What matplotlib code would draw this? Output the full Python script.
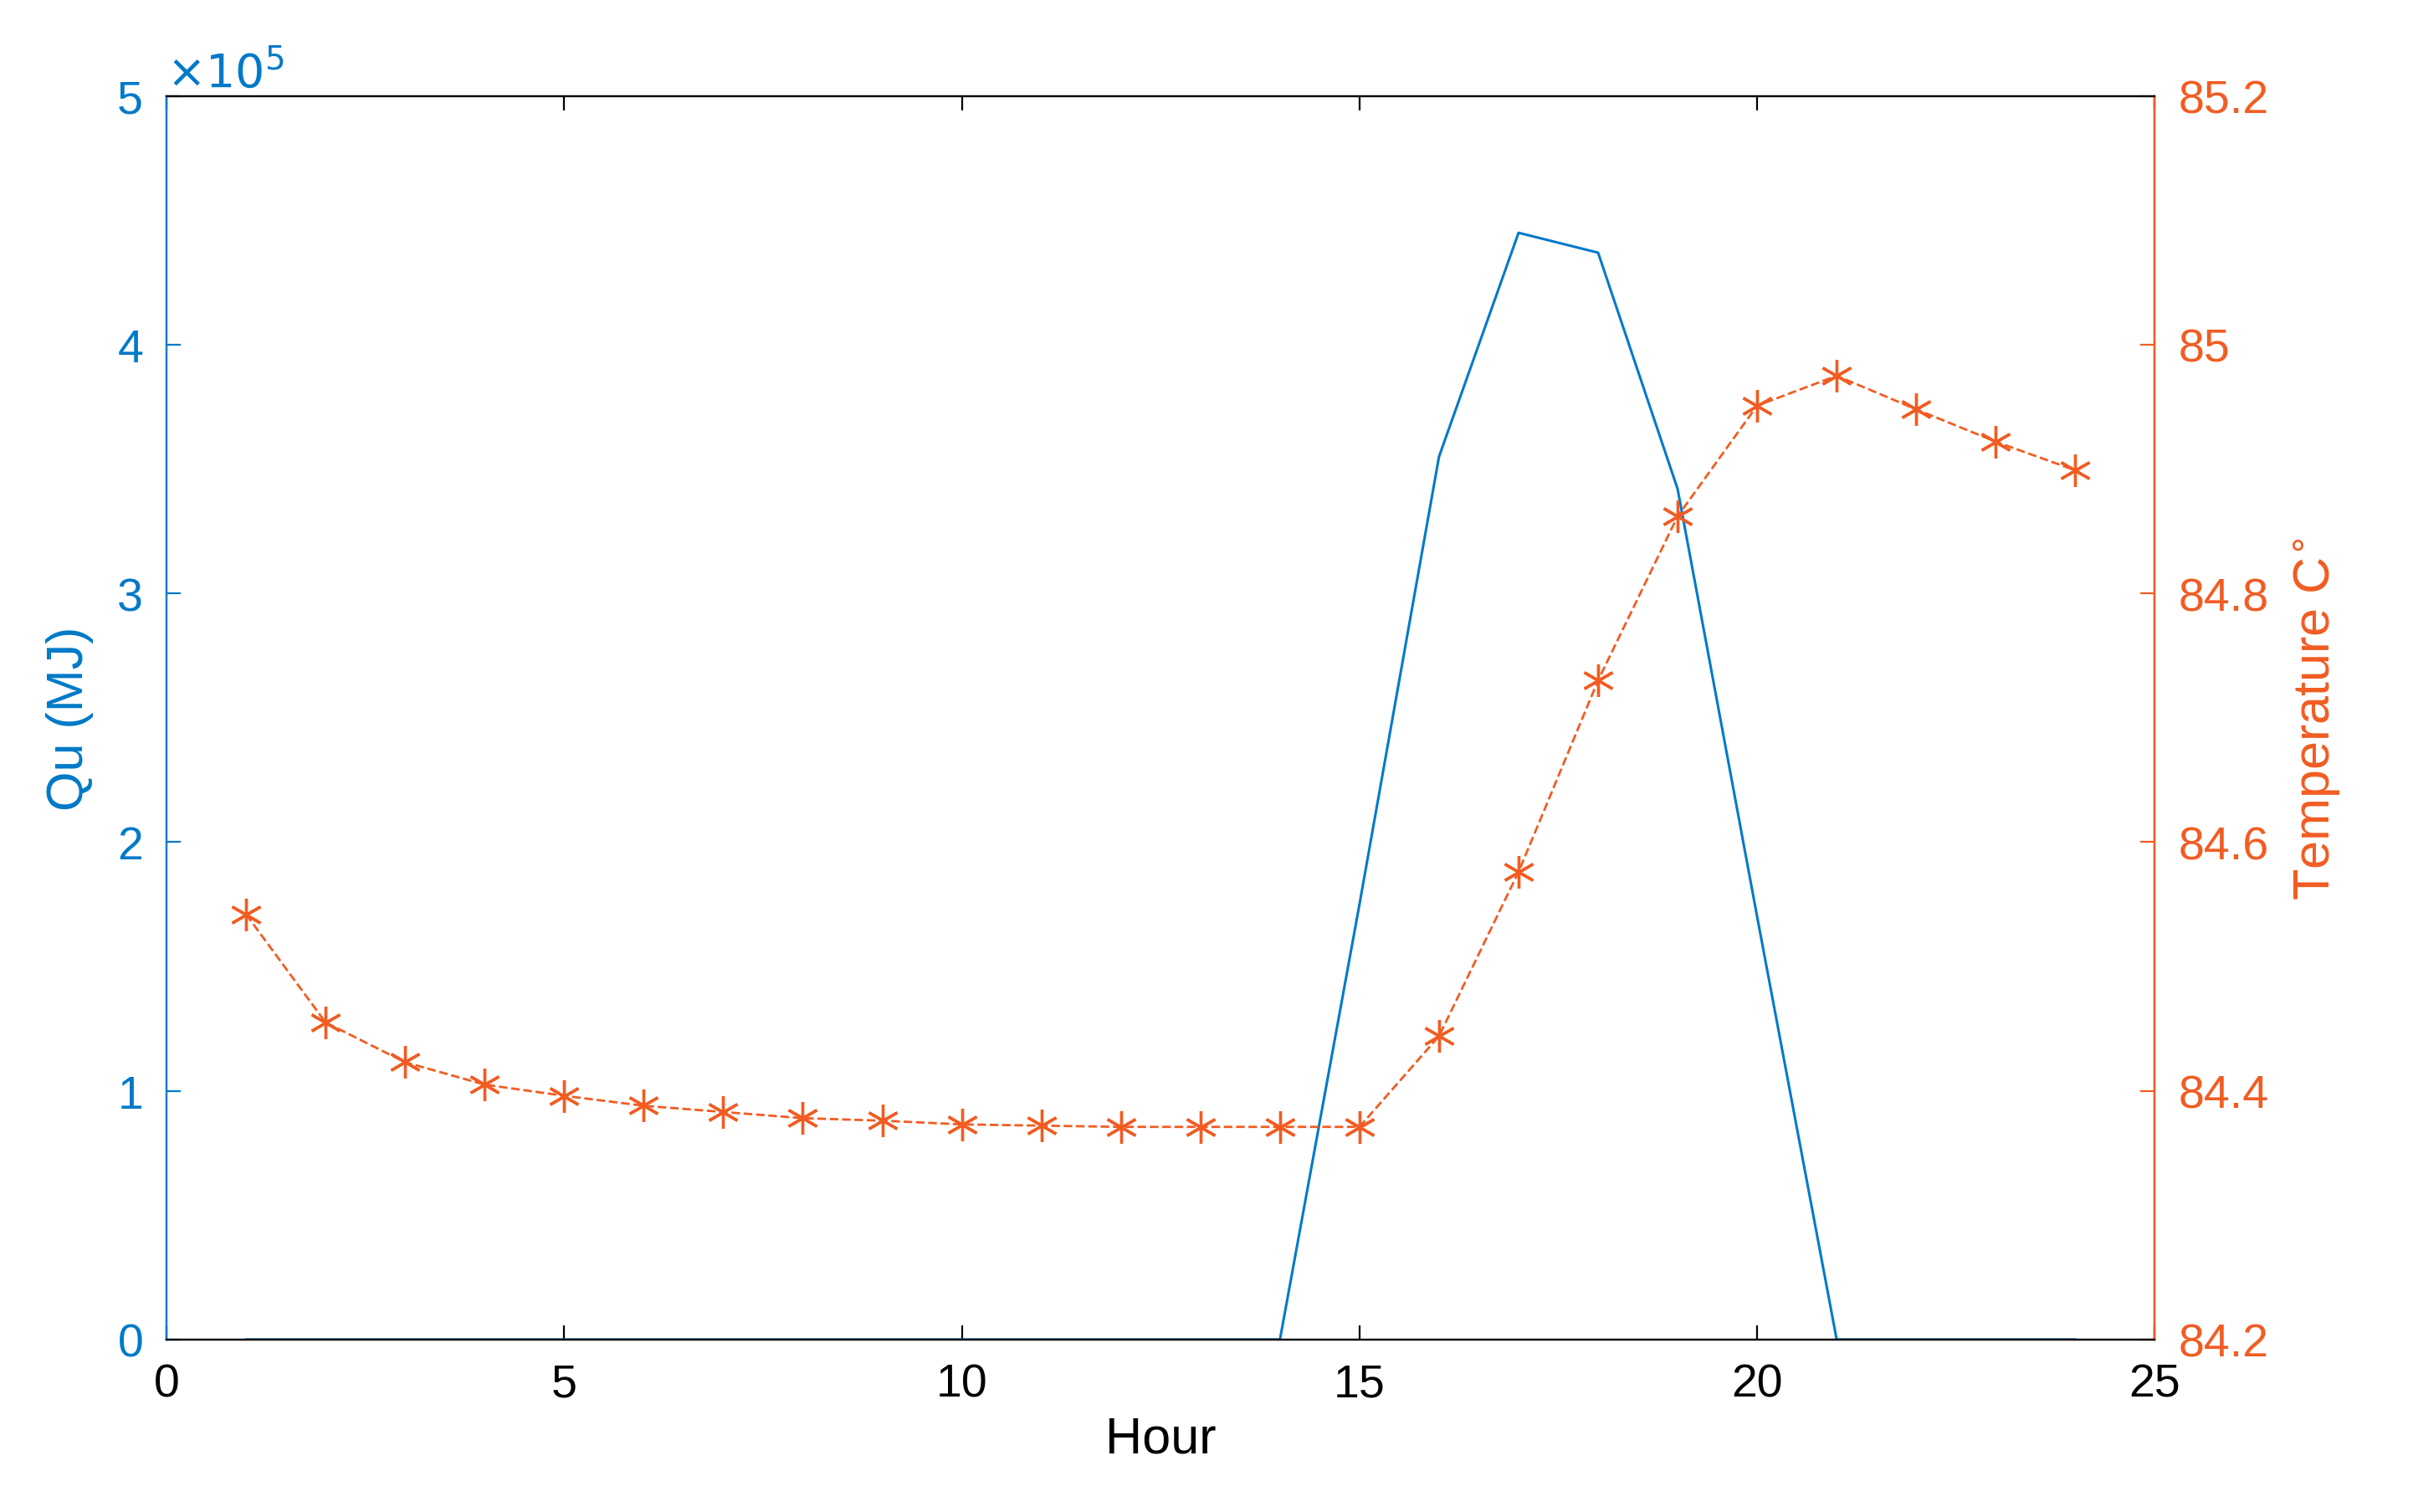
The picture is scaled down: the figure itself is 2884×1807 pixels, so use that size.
import matplotlib.pyplot as plt
import numpy as np

plt.rcParams['font.family'] = ['Liberation Sans', 'DejaVu Sans']

hours = np.arange(1, 25)
qu = [0, 0, 0, 0, 0, 0, 0, 0, 0, 0, 0, 0, 0, 0, 1.75, 3.55, 4.45, 4.37, 3.42, 1.7,
      0, 0, 0, 0]  # x1e5 MJ
temp = [84.542, 84.455, 84.423, 84.405, 84.396, 84.388, 84.383, 84.378, 84.376,
        84.373, 84.372, 84.371, 84.371, 84.371, 84.371, 84.444, 84.576, 84.730,
        84.862, 84.951, 84.975, 84.948, 84.922, 84.899]

blue = '#0079C8'
orange = '#F25C22'

fig = plt.figure(figsize=(14.42, 9.04), dpi=200)
ax = fig.add_axes([0.069, 0.114, 0.824, 0.822])
ax.plot(hours, np.array(qu) * 1e5, color=blue, lw=1.1)
ax.set_xlim(0, 25)
ax.set_ylim(0, 5e5)
ax.set_xticks([0, 5, 10, 15, 20, 25])
ax.set_yticks([0, 1e5, 2e5, 3e5, 4e5, 5e5])
ax.set_yticklabels(['0', '1', '2', '3', '4', '5'])
ax.set_xlabel('Hour', fontsize=22)
ax.set_ylabel('Qu (MJ)', fontsize=22, color=blue, labelpad=10)
ax.tick_params(axis='y', colors=blue, labelsize=20, direction='in', length=6, pad=10)
ax.tick_params(axis='x', labelsize=20, direction='in', length=6, top=True, pad=10)
ax.spines['left'].set_color(blue)
ax.text(0, 1.0, r'$\times10^5$', transform=ax.transAxes, color=blue, fontsize=20,
        va='bottom', ha='left')

ax2 = ax.twinx()
ax2.plot(hours, temp, color=orange, ls='--', lw=1.0, marker=(6, 2, 0), markersize=14,
         markeredgewidth=1.2)
ax2.set_ylim(84.2, 85.2)
ax2.set_yticks([84.2, 84.4, 84.6, 84.8, 85.0, 85.2])
ax2.set_yticklabels(['84.2', '84.4', '84.6', '84.8', '85', '85.2'])
ax2.set_ylabel(r'Temperature C$^{\circ}$', fontsize=22, color=orange, labelpad=10)
ax2.tick_params(axis='y', colors=orange, labelsize=20, direction='in', length=6, pad=10)
ax2.spines['right'].set_color(orange)
ax2.spines['left'].set_color(blue)

fig.savefig('out.png', dpi=200)
